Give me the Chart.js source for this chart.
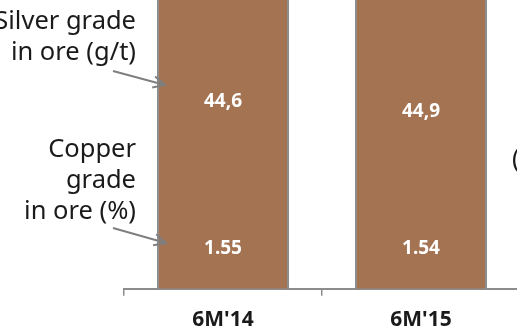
<!DOCTYPE html>
<html>
<head>
<meta charset="utf-8">
<script src="https://cdn.jsdelivr.net/npm/chart.js@4/dist/chart.umd.min.js"></script>
<style>
  html, body { margin: 0; padding: 0; background: #ffffff; width: 517px; height: 331px; overflow: hidden; }
  canvas { display: block; }
</style>
</head>
<body>
<canvas id="chart" width="524" height="331"></canvas>
<script>
// Periods and ore grades
const periods = ["6M'14", "6M'15"];
const copperGrade = [1.55, 1.54];      // copper grade in ore, %
const silverGrade = [44.6, 44.9];      // silver grade in ore, g/t
const columnValue = [11.68, 11.32];    // column totals (tops run past the view)

const FONT = "'Noto Sans', 'Open Sans', sans-serif";
const BAR = '#a47352';
const GREY = '#8c8c8c';
const INK = '#1a1a1a';

// Style settings for in-column labels and side notes
const style = {
  silverFromTop: 150,   // px below the column top
  copperFromBase: 40,   // px above the column base
  noteRight: 12,        // note right edge beyond the plot's left edge
  noteLine: 31
};

const gradeLabels = {
  id: 'gradeLabels',
  afterDatasetsDraw(chart) {
    const ctx = chart.ctx;
    const meta = chart.getDatasetMeta(0);
    ctx.save();
    ctx.fillStyle = '#ffffff';
    ctx.font = 'bold 19px ' + FONT;
    ctx.textAlign = 'center';
    ctx.textBaseline = 'middle';
    meta.data.forEach((bar, i) => {
      ctx.fillText(silverGrade[i].toFixed(1).replace('.', ','), bar.x, bar.y + style.silverFromTop);
      ctx.fillText(copperGrade[i].toFixed(2), bar.x, bar.base - style.copperFromBase);
    });
    ctx.restore();
  }
};

function arrow(ctx, x0, y0, x1, y1) {
  const a = Math.atan2(y1 - y0, x1 - x0);
  const h = 13, s = 0.45;
  ctx.beginPath();
  ctx.moveTo(x0, y0);
  ctx.lineTo(x1, y1);
  ctx.moveTo(x1 - h * Math.cos(a - s), y1 - h * Math.sin(a - s));
  ctx.lineTo(x1, y1);
  ctx.lineTo(x1 - h * Math.cos(a + s), y1 - h * Math.sin(a + s));
  ctx.stroke();
}

const sideNotes = {
  id: 'sideNotes',
  afterDraw(chart) {
    const ctx = chart.ctx;
    const area = chart.chartArea;
    const bar = chart.getDatasetMeta(0).data[0];
    const xr = area.left + style.noteRight;
    const barLeft = bar.x - bar.width / 2;
    ctx.save();
    ctx.fillStyle = INK;
    ctx.font = '25.5px ' + FONT;
    ctx.textAlign = 'right';
    ctx.textBaseline = 'alphabetic';
    ['Silver grade', 'in ore (g/t)'].forEach((t, k) => ctx.fillText(t, xr, 29 + k * style.noteLine));
    ['Copper', 'grade', 'in ore (%)'].forEach((t, k) => ctx.fillText(t, xr, 157 + k * style.noteLine));
    ctx.textAlign = 'left';
    ctx.fillText('(', 512, 167);

    ctx.strokeStyle = '#7f7f7f';
    ctx.lineWidth = 2;
    arrow(ctx, 113, 71, barLeft + 8, 85);
    arrow(ctx, 113, 228, barLeft + 9, 243);
    ctx.restore();
  }
};

new Chart(document.getElementById('chart'), {
  type: 'bar',
  data: {
    labels: periods,
    datasets: [{
      data: columnValue,
      backgroundColor: BAR,
      borderColor: GREY,
      borderWidth: { left: 2, right: 2, top: 2, bottom: 0 },
      barPercentage: 0.667,
      categoryPercentage: 1
    }]
  },
  options: {
    responsive: false,
    animation: false,
    devicePixelRatio: 1,
    layout: { padding: { left: 124, right: 4, top: 0, bottom: -14 } },
    plugins: { legend: { display: false }, tooltip: { enabled: false } },
    scales: {
      y: { display: false, min: 0, max: 10 },
      x: {
        offset: true,
        grid: { offset: true, drawOnChartArea: false, drawTicks: true, tickLength: 7, color: GREY, lineWidth: 1.5 },
        border: { display: true, color: GREY, width: 2 },
        ticks: { padding: 12, color: INK, font: { family: FONT, size: 21, weight: 'bold' } }
      }
    }
  },
  plugins: [gradeLabels, sideNotes]
});
</script>
</body>
</html>
